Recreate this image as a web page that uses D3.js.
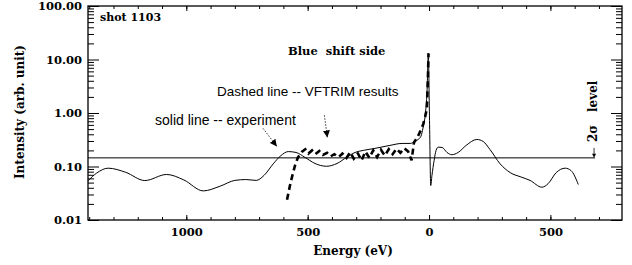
<!DOCTYPE html>
<html><head><meta charset="utf-8">
<script src="https://cdn.jsdelivr.net/npm/d3@7"></script>
<style>body{margin:0;background:#fff}svg{display:block}</style>
</head><body><svg id="c" width="632" height="265"></svg>
<script>
// ---- data (energy in eV; left side of 0 shown as negative, labelled by magnitude) ----
const expEnergy = [-1405,-1370,-1322,-1250,-1171,-1081,-1010,-930,-860,-800,-755,-712,-680,-642,-610,-580,-548,-511,-470,-422,-379,-339,-305,-271,-223,-161,-111,-78,-58,-45,-33,-25,-16,-8,-3,2,7,12,21,29,38,54,74,94,120,153,197,223,251,293,334,382,416,465,491,524,561,585,615];
const expIntensity = [0.054,0.075,0.093,0.078,0.0546,0.071,0.056,0.035,0.043,0.055,0.057,0.055,0.068,0.112,0.16,0.19,0.183,0.148,0.114,0.101,0.114,0.149,0.183,0.2,0.218,0.248,0.27,0.27,0.294,0.32,0.37,0.52,0.9,2.7,13.2,0.73,0.044,0.068,0.13,0.2,0.23,0.227,0.183,0.166,0.183,0.248,0.32,0.294,0.208,0.112,0.077,0.063,0.055,0.041,0.048,0.077,0.093,0.084,0.046];
const simEnergy = [-585,-573,-563,-552,-540,-523,-510,-497,-482,-468,-452,-437,-420,-405,-390,-372,-357,-340,-325,-310,-293,-278,-262,-246,-230,-214,-198,-182,-166,-150,-134,-118,-102,-86,-72,-62,-52,-42,-32,-24,-16,-9,-5,-2];
const simIntensity = [0.024,0.044,0.068,0.105,0.148,0.19,0.21,0.175,0.2,0.17,0.195,0.165,0.18,0.155,0.17,0.15,0.175,0.145,0.185,0.14,0.175,0.13,0.19,0.145,0.2,0.15,0.205,0.16,0.21,0.17,0.215,0.18,0.22,0.19,0.13,0.28,0.33,0.4,0.5,0.62,0.85,1.2,4,13];
const xMajorTicks = [-1000,-500,0,500];
const xTickLabels = ["1000","500","0","500"];
const xMinorTicks = d3.range(-1400,800,100);
const yMajorTicks = [0.01,0.1,1,10,100];
const yTickLabels = ["0.01","0.10","1.00","10.00","100.00"];
const sigmaLevel = 0.145;
const sigmaLineEnd = 684;
const arrowSolid = {from:[-684,0.516], to:[-627,0.237]};
const arrowDashed = {from:[-431,0.906], to:[-419,0.35]};

// ---- layout ----
const L=88, R=622, T=6, B=220;
const svg = d3.select("#c");
const x = d3.scaleLinear([-1405,795],[L,R]);
const y = d3.scaleLog([0.01,100],[B,T]);
const serif = "'DejaVu Serif', serif";
const sans = "'Liberation Sans', Arial, sans-serif";

const yMinor = [];
for (let d=0.01; d<100; d*=10) for (let k=2;k<10;k++) yMinor.push(+(d*k).toPrecision(3));

function styleAxis(g){ g.select(".domain").remove(); g.selectAll("line").attr("stroke","#000").attr("stroke-width",1); }

// left axis
svg.append("g").attr("transform",`translate(${L},0)`)
  .call(d3.axisLeft(y).tickValues(yMinor).tickSize(-6).tickFormat("")).call(styleAxis);
svg.append("g").attr("transform",`translate(${L},0)`)
  .call(d3.axisLeft(y).tickValues(yMajorTicks).tickSize(-11).tickPadding(6)
    .tickFormat((d,i)=>yTickLabels[i])).call(styleAxis)
  .selectAll("text").attr("font-family",serif).attr("font-weight","bold").attr("font-size",11.5).attr("fill","#000");
// right axis
svg.append("g").attr("transform",`translate(${R},0)`)
  .call(d3.axisRight(y).tickValues(yMinor).tickSize(-6).tickFormat("")).call(styleAxis);
svg.append("g").attr("transform",`translate(${R},0)`)
  .call(d3.axisRight(y).tickValues(yMajorTicks).tickSize(-11).tickFormat("")).call(styleAxis);
// bottom axis
svg.append("g").attr("transform",`translate(0,${B})`)
  .call(d3.axisBottom(x).tickValues(xMinorTicks).tickSize(-3).tickFormat("")).call(styleAxis);
svg.append("g").attr("transform",`translate(0,${B})`)
  .call(d3.axisBottom(x).tickValues(xMajorTicks).tickSize(-5).tickPadding(8)
    .tickFormat((d,i)=>xTickLabels[i])).call(styleAxis)
  .selectAll("text").attr("font-family",serif).attr("font-weight","bold").attr("font-size",11.5).attr("fill","#000");
// top axis
svg.append("g").attr("transform",`translate(0,${T})`)
  .call(d3.axisTop(x).tickValues(xMinorTicks).tickSize(-3).tickFormat("")).call(styleAxis);
svg.append("g").attr("transform",`translate(0,${T})`)
  .call(d3.axisTop(x).tickValues(xMajorTicks).tickSize(-5).tickFormat("")).call(styleAxis);

// frame
svg.append("rect").attr("x",L).attr("y",T).attr("width",R-L).attr("height",B-T)
  .attr("fill","none").attr("stroke","#000").attr("stroke-width",1.3);

// 2 sigma line
svg.append("line").attr("x1",x(-1405)).attr("x2",x(sigmaLineEnd))
  .attr("y1",y(sigmaLevel)).attr("y2",y(sigmaLevel)).attr("stroke","#000").attr("stroke-width",1);

// experiment (solid)
const expData = expEnergy.map((e,i)=>[e,expIntensity[i]]);
svg.append("path").datum(expData)
  .attr("d",d3.line().x(d=>x(d[0])).y(d=>y(d[1])).curve(d3.curveMonotoneX))
  .attr("fill","none").attr("stroke","#000").attr("stroke-width",1);
// VFTRIM (dashed)
const simData = simEnergy.map((e,i)=>[e,simIntensity[i]]);
svg.append("path").datum(simData)
  .attr("d",d3.line().x(d=>x(d[0])).y(d=>y(d[1])))
  .attr("fill","none").attr("stroke","#000").attr("stroke-width",2.6)
  .attr("stroke-dasharray","6,4");

// arrowhead marker
svg.append("defs").append("marker").attr("id","ah").attr("viewBox","0 0 10 10")
  .attr("refX",10).attr("refY",5).attr("markerWidth",7).attr("markerHeight",7)
  .attr("markerUnits","userSpaceOnUse").attr("orient","auto")
  .append("path").attr("d","M0,0L10,5L0,10Z").attr("fill","#000");
[arrowSolid,arrowDashed].forEach(a=>{
  svg.append("line").attr("x1",x(a.from[0])).attr("y1",y(a.from[1]))
    .attr("x2",x(a.to[0])).attr("y2",y(a.to[1]))
    .attr("stroke","#000").attr("stroke-width",0.8).attr("stroke-dasharray","1.5,1.5")
    .attr("marker-end","url(#ah)");
});

// texts
function txt(s,xx,yy,opt={}){
  const t = svg.append("text").attr("x",xx).attr("y",yy).text(s)
    .attr("font-family",opt.family||serif).attr("font-size",opt.size||11.5)
    .attr("font-weight",opt.weight||"bold").attr("fill","#000")
    .attr("text-anchor",opt.anchor||"start").style("white-space","pre");
  if (opt.rotate) t.attr("transform",`rotate(${opt.rotate},${xx},${yy})`);
  return t;
}
txt("shot 1103",100,21,{size:11});
txt("Blue  shift side",288,55);
txt("Dashed line -- VFTRIM results",217,96,{family:sans,weight:"normal",size:13.5});
txt("solid line -- experiment",155,125,{family:sans,weight:"normal",size:14});
txt("Energy (eV)",353,255,{anchor:"middle",size:12});
txt("Intensity (arb. unit)",24,112,{anchor:"middle",size:12,rotate:-90});
txt("2σ",597,142,{rotate:-90,size:12});
txt("level",597,112,{rotate:-90,size:12});
// small arrow to the sigma line
const ax = x(sigmaLineEnd)-1;
svg.append("line").attr("x1",ax).attr("x2",ax).attr("y1",y(sigmaLevel)-10).attr("y2",y(sigmaLevel)-3)
  .attr("stroke","#000").attr("stroke-width",0.8);
svg.append("path").attr("d",`M${ax-2},${y(sigmaLevel)-4}L${ax+2},${y(sigmaLevel)-4}L${ax},${y(sigmaLevel)}Z`).attr("fill","#000");
</script></body></html>
